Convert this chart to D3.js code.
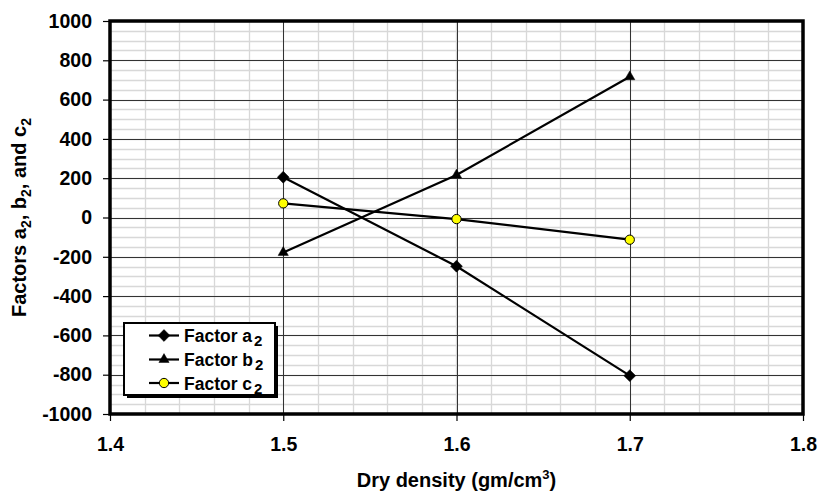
<!DOCTYPE html>
<html><head><meta charset="utf-8">
<script src="https://cdn.jsdelivr.net/npm/d3@7/dist/d3.min.js"></script>
<style>body{margin:0;background:#fff}svg{display:block}text{font-family:"Liberation Sans",Arial,sans-serif;font-weight:bold;fill:#000}</style>
</head><body>
<script>
const xValues = [1.5, 1.6, 1.7];
const factorA = [205, -248, -805];
const factorB = [-178, 216, 716];
const factorC = [72, -8, -113];
const seriesNames = ["Factor a", "Factor b", "Factor c"];
const xTicks = [1.4, 1.5, 1.6, 1.7, 1.8];
const yTicks = [-1000, -800, -600, -400, -200, 0, 200, 400, 600, 800, 1000];

const W = 818, H = 492;
const svg = d3.select("body").append("svg").attr("width", W).attr("height", H);
const L = 110, R = 803, T = 21, B = 414;
const x = d3.scaleLinear().domain([1.4, 1.8]).range([L, R]);
const y = d3.scaleLinear().domain([-1000, 1000]).range([B, T]);

// minor grid
const xMinor = d3.range(1.4, 1.8001, 0.02);
const yMinor = d3.range(-1000, 1001, 50);
const g = svg.append("g");
g.selectAll(".mx").data(xMinor).enter().append("line")
  .attr("x1", d => Math.round(x(d)) + 0.5).attr("x2", d => Math.round(x(d)) + 0.5)
  .attr("y1", T).attr("y2", B).attr("stroke", "#d8d8d8").attr("stroke-width", 1.3);
g.selectAll(".my").data(yMinor).enter().append("line")
  .attr("y1", d => Math.round(y(d)) + 0.5).attr("y2", d => Math.round(y(d)) + 0.5)
  .attr("x1", L).attr("x2", R).attr("stroke", "#d8d8d8").attr("stroke-width", 1.3);
// major grid
g.selectAll(".Mx").data(xTicks).enter().append("line")
  .attr("x1", d => Math.round(x(d)) + 0.5).attr("x2", d => Math.round(x(d)) + 0.5)
  .attr("y1", T).attr("y2", B).attr("stroke", "#333").attr("stroke-width", 1);
g.selectAll(".My").data(yTicks).enter().append("line")
  .attr("y1", d => Math.round(y(d)) + 0.5).attr("y2", d => Math.round(y(d)) + 0.5)
  .attr("x1", L).attr("x2", R).attr("stroke", "#333").attr("stroke-width", 1);

// axes
const yAxis = d3.axisLeft(y).tickValues(yTicks).tickSize(7).tickPadding(11).tickFormat(d => String(d));
const xAxis = d3.axisBottom(x).tickValues(xTicks).tickSize(7).tickPadding(16).tickFormat(d3.format(".1f"));
const ya = svg.append("g").attr("transform", `translate(${L},0)`).call(yAxis);
const xa = svg.append("g").attr("transform", `translate(0,${B})`).call(xAxis);
[ya, xa].forEach(a => {
  a.select(".domain").remove();
  a.selectAll("line").attr("stroke", "#000").attr("stroke-width", 1.2);
  a.selectAll("text").style("font-size", "19.5px").style("font-weight", "bold").attr("fill", "#000");
});

// plot border
svg.append("rect").attr("x", L).attr("y", T).attr("width", R - L).attr("height", B - T)
  .attr("fill", "none").attr("stroke", "#000").attr("stroke-width", 3.5);

// series
const line = d3.line().x(d => x(d[0])).y(d => y(d[1]));
const series = [factorA, factorB, factorC].map(v => xValues.map((xv, i) => [xv, v[i]]));
const symbols = [
  {type: d3.symbolSquare, size: 70, rot: 45, fill: "#000"},
  {type: d3.symbolTriangle, size: 45, rot: 0, fill: "#000"},
  {type: d3.symbolCircle, size: 68, rot: 0, fill: "#ffff00"}
];
series.forEach((s, i) => {
  svg.append("path").attr("d", line(s)).attr("fill", "none").attr("stroke", "#000").attr("stroke-width", 2.2);
});
series.forEach((s, i) => {
  const sy = symbols[i];
  svg.selectAll(null).data(s).enter().append("path")
    .attr("d", d3.symbol().type(sy.type).size(sy.size))
    .attr("transform", d => `translate(${x(d[0])},${y(d[1])}) rotate(${sy.rot})`)
    .attr("fill", sy.fill).attr("stroke", "#000").attr("stroke-width", i === 2 ? 1 : 0.5);
});

// legend
const lg = svg.append("g");
lg.append("rect").attr("x", 127).attr("y", 326).attr("width", 151).attr("height", 72).attr("fill", "#000");
lg.append("rect").attr("x", 124).attr("y", 323).attr("width", 151).attr("height", 72)
  .attr("fill", "#fff").attr("stroke", "#000").attr("stroke-width", 2);
const rowY = [335.5, 359.5, 383];
seriesNames.forEach((n, i) => {
  const yy = rowY[i];
  lg.append("line").attr("x1", 149).attr("x2", 179).attr("y1", yy).attr("y2", yy).attr("stroke", "#000").attr("stroke-width", 2.2);
  const sy = symbols[i];
  lg.append("path").attr("d", d3.symbol().type(sy.type).size(sy.size))
    .attr("transform", `translate(164,${yy}) rotate(${sy.rot})`)
    .attr("fill", sy.fill).attr("stroke", "#000").attr("stroke-width", i === 2 ? 1 : 0.5);
  const t = lg.append("text").attr("x", 184).attr("y", yy + 6.5).style("font-size", "17.5px");
  t.append("tspan").text(n);
  t.append("tspan").attr("dx", 2).attr("dy", 4).style("font-size", "15px").text("2");
});

// axis titles
const xt = svg.append("text").attr("x", (L + R) / 2).attr("y", 487).attr("text-anchor", "middle").style("font-size", "20px");
xt.append("tspan").text("Dry density (gm/cm");
xt.append("tspan").attr("dy", -8).style("font-size", "13px").text("3");
xt.append("tspan").attr("dy", 8).text(")");

const yt = svg.append("text").attr("transform", `translate(26,${(T + B) / 2}) rotate(-90)`).attr("text-anchor", "middle").style("font-size", "20px");
yt.append("tspan").text("Factors a");
yt.append("tspan").attr("dy", 5).style("font-size", "14px").text("2");
yt.append("tspan").attr("dy", -5).text(", b");
yt.append("tspan").attr("dy", 5).style("font-size", "14px").text("2");
yt.append("tspan").attr("dy", -5).text(", and c");
yt.append("tspan").attr("dy", 5).style("font-size", "14px").text("2");
</script>
</body></html>
